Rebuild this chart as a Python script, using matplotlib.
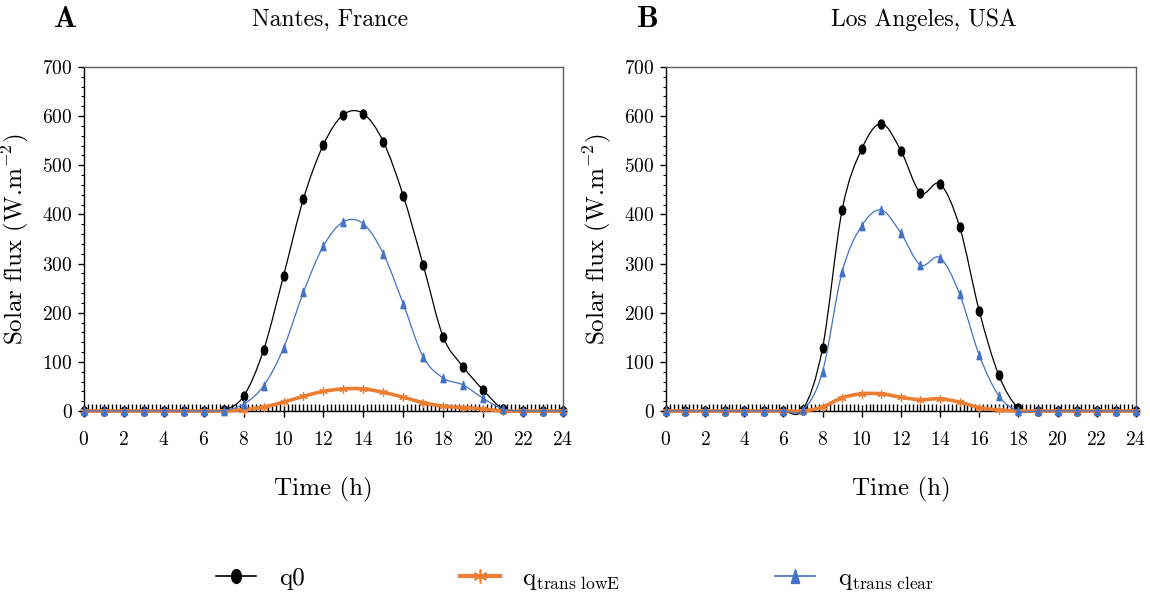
import numpy as np
import matplotlib
matplotlib.use('Agg')
import matplotlib.pyplot as plt
from matplotlib.path import Path
from matplotlib.patches import PathPatch
from matplotlib.lines import Line2D
from matplotlib.ticker import MultipleLocator
from matplotlib.transforms import Affine2D

plt.rcParams['font.family'] = 'serif'
plt.rcParams['font.serif'] = ['cmr10']
plt.rcParams['mathtext.fontset'] = 'cm'
plt.rcParams['axes.formatter.use_mathtext'] = True

# ── Données ───────────────────────────────────────────────────────────────────
hours = list(range(25))

nantes_q0 = [0, 0, 0, 0, 0, 0, 0, 2, 30, 124, 275, 432, 542, 603, 605, 548,
             438, 297, 151, 90, 43, 4, 0, 0, 0]
nantes_lowE = [0, 0, 0, 0, 0, 0, 0, 0, 3, 8, 18, 30, 40, 45, 45, 38,
               28, 17, 10, 7, 4, 0, 0, 0, 0]
nantes_clear = [0, 0, 0, 0, 0, 0, 0, 1, 14, 51, 128, 242, 336, 385, 381, 320,
                218, 110, 67, 53, 26, 4, 0, 0, 0]

la_q0 = [0, 0, 0, 0, 0, 0, 0, 3, 128, 409, 533, 585, 530, 444, 462, 375,
         204, 73, 6, 0, 0, 0, 0, 0, 0]
la_lowE = [0, 0, 0, 0, 0, 0, 0, 0, 8, 27, 35, 35, 28, 23, 25, 18,
           7, 2, 0, 0, 0, 0, 0, 0, 0]
la_clear = [0, 0, 0, 0, 0, 0, 0, 2, 80, 283, 377, 409, 362, 297, 312, 238,
            114, 31, 0, 0, 0, 0, 0, 0, 0]

panels = [('A', 'Nantes, France', nantes_q0, nantes_lowE, nantes_clear),
          ('B', 'Los Angeles, USA', la_q0, la_lowE, la_clear)]

C_Q0 = 'black'
C_LOWE = '#ED7D31'
C_CLEAR = '#4472C4'

# marqueurs un peu étirés verticalement comme dans l'original
ELLIPSE = Path.unit_circle().transformed(Affine2D().scale(0.7, 1.0))
TRI = Path([(-0.6, -1), (0.6, -1), (0, 1), (-0.6, -1)],
           [Path.MOVETO, Path.LINETO, Path.LINETO, Path.CLOSEPOLY])


def smooth_path(x, y):
    """Courbe lissée type Excel (Catmull-Rom -> Bézier cubiques)."""
    x = np.asarray(x, float)
    y = np.asarray(y, float)
    px = np.concatenate([[x[0]], x, [x[-1]]])
    py = np.concatenate([[y[0]], y, [y[-1]]])
    verts = [(x[0], y[0])]
    codes = [Path.MOVETO]
    for i in range(len(x) - 1):
        c1 = (px[i + 1] + (px[i + 2] - px[i]) / 6, py[i + 1] + (py[i + 2] - py[i]) / 6)
        c2 = (px[i + 2] - (px[i + 3] - px[i + 1]) / 6, py[i + 2] - (py[i + 3] - py[i + 1]) / 6)
        verts += [c1, c2, (x[i + 1], y[i + 1])]
        codes += [Path.CURVE4] * 3
    return Path(verts, codes)


def draw_series(ax, x, y, color, lw, marker, ms, mew=1.0, zorder=3):
    ax.add_patch(PathPatch(smooth_path(x, y), facecolor='none', edgecolor=color,
                           lw=lw, clip_on=False, zorder=zorder))
    ax.plot(x, y, ls='none', marker=marker, ms=ms, color=color, mec=color,
            mew=mew, clip_on=False, zorder=zorder + 0.5)


fig = plt.figure(figsize=(11.5, 6.07), dpi=100)
axes_pos = [[0.073, 0.3229, 0.4165, 0.5667],
            [0.579, 0.3229, 0.4087, 0.5667]]
letter_x = [0.057, 0.563]
title_x = [0.287, 0.803]

for k, (letter, city, q0, lowE, clear) in enumerate(panels):
    ax = fig.add_axes(axes_pos[k])
    draw_series(ax, hours, q0, C_Q0, 0.9, ELLIPSE, 6.5, zorder=3)
    draw_series(ax, hours, lowE, C_LOWE, 2.6, (6, 2, 0), 6, mew=0.9, zorder=4)
    draw_series(ax, hours, clear, C_CLEAR, 0.9, TRI, 6, zorder=5)

    ax.set_xlim(0, 24)
    ax.set_ylim(0, 700)
    ax.xaxis.set_major_locator(MultipleLocator(2))
    ax.xaxis.set_minor_locator(MultipleLocator(0.2))
    ax.yaxis.set_major_locator(MultipleLocator(100))
    ax.yaxis.set_minor_locator(MultipleLocator(20))
    ax.tick_params(axis='x', which='major', direction='inout', length=9, width=1,
                   pad=10, labelsize=14)
    ax.tick_params(axis='x', which='minor', direction='in', length=5, width=1)
    ax.tick_params(axis='y', which='major', direction='out', length=4, width=1,
                   pad=4, labelsize=14)
    ax.tick_params(axis='y', which='minor', direction='out', length=2, width=0.8)
    for s in ['top', 'right']:
        ax.spines[s].set_color('#606060')
        ax.spines[s].set_linewidth(1.0)
    ax.spines['left'].set_linewidth(1.0)
    ax.spines['bottom'].set_linewidth(1.0)

    ax.set_xlabel('Time (h)', fontsize=18, labelpad=20)
    ax.set_ylabel(r'Solar flux (W.m$^{\mathrm{-2}}$)', fontsize=18, labelpad=8)

    fig.text(letter_x[k], 0.968, letter, fontfamily='cmb10', fontsize=22,
             ha='center', va='center')
    fig.text(title_x[k], 0.968, city, fontsize=17, ha='center', va='center')

handles = [Line2D([], [], color=C_Q0, lw=1.2, marker=ELLIPSE, ms=10),
           Line2D([], [], color=C_LOWE, lw=3, marker=(6, 2, 0), ms=10, mew=1.2),
           Line2D([], [], color=C_CLEAR, lw=1.2, marker=TRI, ms=10)]
labels = ['q0', r'q$_{\mathrm{trans\ lowE}}$', r'q$_{\mathrm{trans\ clear}}$']
fig.legend(handles, labels, loc='center', bbox_to_anchor=(0.5, 0.045), ncol=3,
           frameon=False, fontsize=18, columnspacing=6.2, handlelength=1.6,
           handletextpad=0.9)

plt.savefig('out.png', dpi=100)
